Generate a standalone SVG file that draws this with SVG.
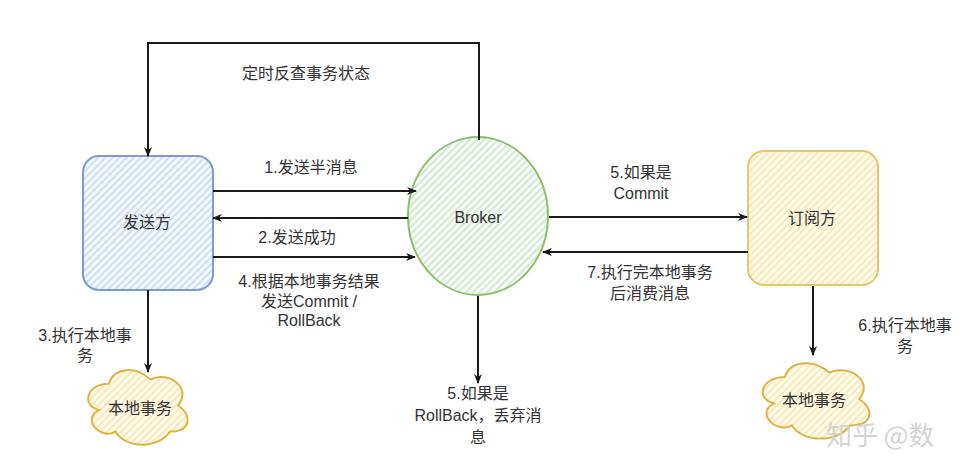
<svg xmlns="http://www.w3.org/2000/svg" width="962" height="454" viewBox="0 0 962 454">
<style>
.t{font-family:"Liberation Sans","Noto Sans CJK SC",sans-serif;font-size:16px;fill:#333;text-anchor:middle}
.c{fill:none;stroke:#1a1a1a;stroke-width:2;marker-end:url(#ah)}
.wm{font-family:"Noto Sans CJK SC",sans-serif;font-size:26px;fill:#d4d4d4}
</style>
<defs>
<marker id="ah" viewBox="0 0 10 10" refX="9" refY="5" markerWidth="10" markerHeight="10" markerUnits="userSpaceOnUse" orient="auto"><path d="M0,1 L10,5 L0,9 L3,5 Z" fill="#1a1a1a"/></marker>
<pattern id="hb" width="5" height="5" patternUnits="userSpaceOnUse" patternTransform="rotate(45)"><rect width="5" height="5" fill="#f4f8fe"/><line x1="1" y1="0" x2="1" y2="5" stroke="#c6d9f4" stroke-width="1.6"/></pattern>
<pattern id="hg" width="5" height="5" patternUnits="userSpaceOnUse" patternTransform="rotate(45)"><rect width="5" height="5" fill="#f6fbf5"/><line x1="1" y1="0" x2="1" y2="5" stroke="#cfe5cd" stroke-width="1.6"/></pattern>
<pattern id="hy" width="5" height="5" patternUnits="userSpaceOnUse" patternTransform="rotate(45)"><rect width="5" height="5" fill="#fffaea"/><line x1="1" y1="0" x2="1" y2="5" stroke="#f6e5b0" stroke-width="1.6"/></pattern>
</defs>

<g id="sender">
<rect x="83" y="156" width="130" height="134" rx="16" ry="16" fill="url(#hb)" stroke="#7b9ccc" stroke-width="2"/>
<text class="t" x="147" y="228">发送方</text>
</g>
<g id="broker">
<ellipse cx="478" cy="216" rx="70" ry="79" fill="url(#hg)" stroke="#8dbf70" stroke-width="2"/>
<text class="t" x="478" y="223">Broker</text>
</g>
<g id="subscriber">
<rect x="748" y="151" width="130" height="134" rx="16" ry="16" fill="url(#hy)" stroke="#e2c96b" stroke-width="2"/>
<text class="t" x="812" y="224">订阅方</text>
</g>
<g id="local-tx-sender">
<path d="M108.75,383.75 C86.55,383.75 81,405.5 98.76,409.85 C81,419.42 100.98,440.3 115.41,431.6 C125.4,449 158.7,449 169.8,431.6 C192,431.6 192,414.2 178.1,405.5 C192,388.1 169.8,370.7 150.4,379.4 C136.5,366.35 114.3,366.35 108.75,383.75 Z" fill="url(#hy)" stroke="#ddb544" stroke-width="2"/>
<text class="t" x="140" y="414">本地事务</text>
</g>
<g id="local-tx-subscriber">
<path d="M784.75,377 C760.95,377 755,399 774.04,403.4 C755,413.08 776.42,434.2 791.89,425.4 C802.6,443 838.3,443 850.2,425.4 C874,425.4 874,407.8 859.1,399 C874,381.4 850.2,363.8 829.4,372.6 C814.5,359.4 790.7,359.4 784.75,377 Z" fill="url(#hy)" stroke="#ddb544" stroke-width="2"/>
<text class="t" x="814" y="406">本地事务</text>
</g>

<g id="connectors">
<path class="c" d="M479,140 L479,43 L148,43 L148,156"/>
<path class="c" d="M213,191 L416,191"/>
<path class="c" d="M408,218 L213,218"/>
<path class="c" d="M213,257 L415,257"/>
<path class="c" d="M148,290 L148,372"/>
<path class="c" d="M478,296 L478,383"/>
<path class="c" d="M549,217 L747,217"/>
<path class="c" d="M748,252 L543,252"/>
<path class="c" d="M813,286 L813,355"/>
</g>

<g id="labels">
<text class="t" x="306" y="79">定时反查事务状态</text>
<text class="t" x="311" y="173">1.发送半消息</text>
<text class="t" x="297" y="243">2.发送成功</text>
<text class="t" x="309" y="287">4.根据本地事务结果</text>
<text class="t" x="309" y="307">发送Commit /</text>
<text class="t" x="309" y="326">RollBack</text>
<text class="t" x="85" y="341">3.执行本地事</text>
<text class="t" x="85" y="361">务</text>
<text class="t" x="478" y="399">5.如果是</text>
<text class="t" x="478" y="421">RollBack，丢弃消</text>
<text class="t" x="478" y="443">息</text>
<text class="t" x="641" y="178">5.如果是</text>
<text class="t" x="641" y="199">Commit</text>
<text class="t" x="650" y="278">7.执行完本地事务</text>
<text class="t" x="650" y="299">后消费消息</text>
<text class="t" x="905" y="331">6.执行本地事</text>
<text class="t" x="905" y="352">务</text>
</g>
<text class="wm" x="826" y="445">知乎 @数</text>
</svg>
